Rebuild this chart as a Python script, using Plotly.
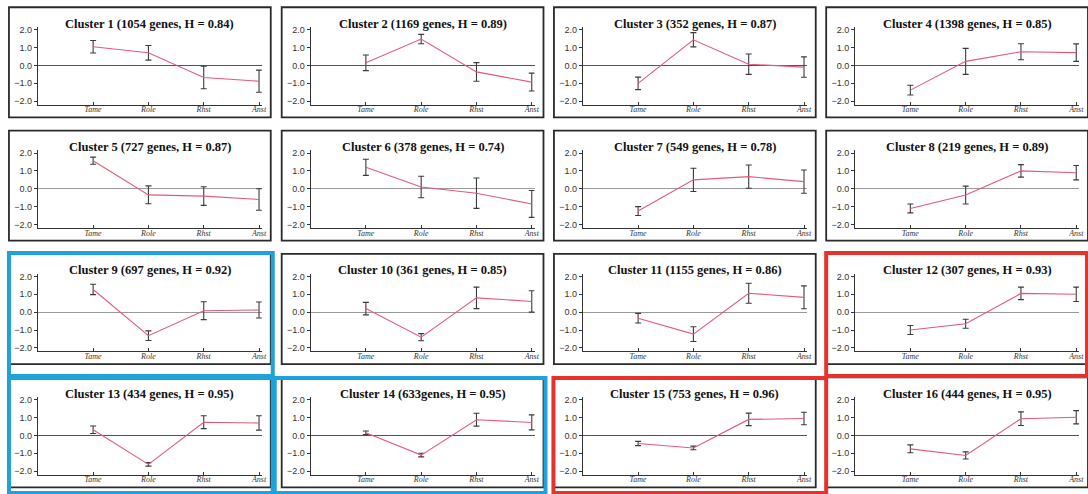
import plotly.graph_objects as go

# Expression profiles of 16 gene clusters across four tissues
tissues = ["Tame", "Role", "Rhst", "Anst"]

gene_counts = ["1054", "1169", "352", "1398", "727", "378", "549", "219",
               "697", "361", "1155", "307", "434", "633", "753", "444"]
h_scores = ["0.84", "0.89", "0.87", "0.85", "0.87", "0.74", "0.78", "0.89",
            "0.92", "0.85", "0.86", "0.93", "0.95", "0.95", "0.96", "0.95"]

cluster_means = [
    [1.05, 0.71, -0.67, -0.88],
    [0.15, 1.48, -0.36, -0.93],
    [-1.00, 1.44, 0.07, -0.09],
    [-1.38, 0.23, 0.77, 0.72],
    [1.57, -0.34, -0.41, -0.60],
    [1.20, 0.10, -0.25, -0.85],
    [-1.25, 0.50, 0.68, 0.40],
    [-1.10, -0.35, 1.00, 0.90],
    [1.27, -1.32, 0.08, 0.12],
    [0.20, -1.40, 0.80, 0.60],
    [-0.34, -1.23, 1.06, 0.83],
    [-1.00, -0.65, 1.05, 1.00],
    [0.32, -1.62, 0.74, 0.70],
    [0.15, -1.10, 0.88, 0.73],
    [-0.45, -0.70, 0.90, 0.95],
    [-0.75, -1.12, 0.94, 1.02],
]
cluster_errs = [
    [0.35, 0.41, 0.63, 0.62],
    [0.44, 0.26, 0.52, 0.50],
    [0.35, 0.40, 0.57, 0.57],
    [0.27, 0.73, 0.45, 0.49],
    [0.20, 0.50, 0.52, 0.60],
    [0.45, 0.60, 0.85, 0.75],
    [0.25, 0.65, 0.65, 0.65],
    [0.25, 0.50, 0.35, 0.40],
    [0.29, 0.27, 0.50, 0.45],
    [0.35, 0.20, 0.60, 0.60],
    [0.27, 0.41, 0.56, 0.64],
    [0.25, 0.25, 0.35, 0.40],
    [0.21, 0.10, 0.36, 0.40],
    [0.10, 0.10, 0.36, 0.42],
    [0.12, 0.10, 0.35, 0.35],
    [0.22, 0.20, 0.38, 0.37],
]

# Highlighted panels (cluster number -> frame colour)
highlight = {9: "#1ea2dc", 13: "#1ea2dc", 14: "#1ea2dc",
             12: "#e6322b", 15: "#e6322b"}

W, H = 1088, 494


def fx(v):
    return v / W


def fy(v):
    return 1 - v / H


axis_left = [38, 312, 585.5, 859]      # pixel x of each column's y axis
plot_top = [25.3, 149.6, 274, 398.3]    # pixel y of each row's plot top
plot_w, plot_h = 225, 78.3

fig = go.Figure()
layout = {}
shapes = []
annotations = []

x_pos = list(range(1, len(tissues) + 1))

for i in range(16):
    r, c = divmod(i, 4)
    n = i + 1
    xa = "x" if n == 1 else f"x{n}"
    ya = "y" if n == 1 else f"y{n}"
    left, top = axis_left[c], plot_top[r]
    dom_x = [fx(left), fx(left + plot_w)]
    dom_y = [fy(top + plot_h), fy(top)]

    fig.add_trace(go.Scatter(
        x=x_pos, y=cluster_means[i], mode="lines",
        line=dict(color="#e25a7a", width=1.1),
        error_y=dict(type="data", array=cluster_errs[i], visible=True,
                     color="#3a3a3a", thickness=1.1, width=3),
        xaxis=xa, yaxis=ya, showlegend=False, hoverinfo="skip",
    ))

    zero_col = "#555555" if r in (0, 3) else "#9a9a9a"
    layout["xaxis" if n == 1 else f"xaxis{n}"] = dict(
        domain=dom_x, anchor=ya, range=[0, 4.05],
        tickvals=x_pos, ticktext=tissues,
        tickfont=dict(family="Liberation Serif, Times New Roman, serif",
                      size=8, color="#333", style="italic"),
        ticklabelstandoff=-3,
        showline=True, linecolor="#333", linewidth=1,
        ticks="inside", ticklen=3, tickcolor="#333",
        showgrid=False, zeroline=False, fixedrange=True,
    )
    layout["yaxis" if n == 1 else f"yaxis{n}"] = dict(
        domain=dom_y, anchor=xa, range=[-2.2, 2.15],
        tickvals=[-2, -1, 0, 1, 2], tickformat=".1f",
        tickfont=dict(family="Liberation Sans, Arial, sans-serif",
                      size=9, color="#333"),
        showline=True, linecolor="#333", linewidth=1,
        ticks="outside", ticklen=3, tickcolor="#333",
        showgrid=False, zeroline=True, zerolinecolor=zero_col,
        zerolinewidth=1, fixedrange=True,
    )

    sep = "" if n == 14 else " "
    annotations.append(dict(
        text=f"<b>Cluster {n} ({gene_counts[i]}{sep}genes, H = {h_scores[i]})</b>",
        x=fx(left + plot_w / 2), y=fy(top - 3.5), xref="paper", yref="paper",
        xanchor="center", yanchor="middle", showarrow=False,
        font=dict(family="Liberation Serif, Times New Roman, serif",
                  size=12.5, color="#111"),
    ))

    # panel frame
    shapes.append(dict(
        type="rect", xref="paper", yref="paper",
        x0=fx(left - 29), x1=fx(left + 234),
        y0=fy(top + 91), y1=fy(top - 20),
        line=dict(color="#2a2a2a", width=1.8), layer="above",
    ))

# coloured frames around selected clusters
frames = {
    9: (9, 274, 253, 377),
    13: (9, 274, 379, 495),
    14: (276, 548, 379, 495),
    12: (830, 1092, 253, 377),
    15: (556, 830, 379, 495),
}
for n, (x0, x1, y0, y1) in frames.items():
    shapes.append(dict(
        type="rect", xref="paper", yref="paper",
        x0=fx(x0), x1=fx(x1), y0=fy(y1), y1=fy(y0),
        line=dict(color=highlight[n], width=4), layer="above",
    ))

fig.update_layout(
    width=W, height=H, margin=dict(l=0, r=0, t=0, b=0),
    paper_bgcolor="white", plot_bgcolor="white",
    shapes=shapes, annotations=annotations, **layout,
)

fig.write_html("out.html")
